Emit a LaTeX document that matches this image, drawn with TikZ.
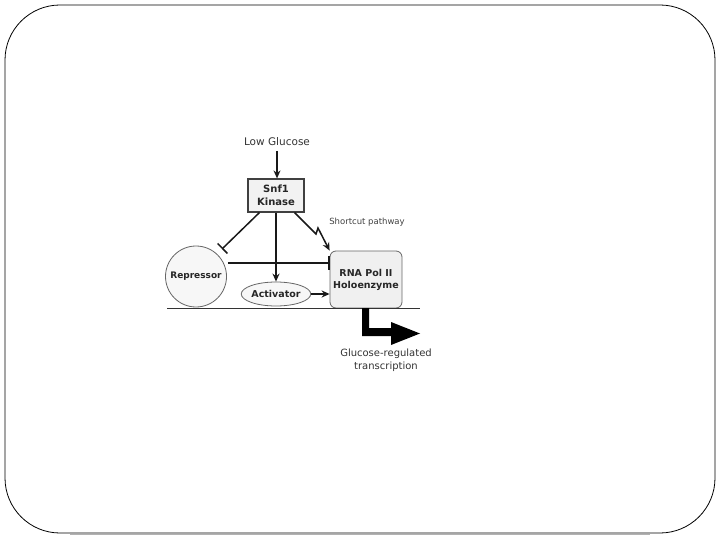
\documentclass[tikz,border=0pt]{standalone}
\usepackage{fontspec}
\setmainfont{DejaVu Sans}
\usetikzlibrary{arrows.meta,shapes.geometric}
\begin{document}
\begin{tikzpicture}[x=1pt,y=-1pt,
  lbl/.style={font=\fontsize{10.5}{12}\selectfont, text=black!80, inner sep=0pt, align=center},
  boldlbl/.style={font=\fontsize{9.5}{12}\selectfont\bfseries, text=black!85, align=center, inner sep=0pt},
  conn/.style={line width=1.5pt, black!90},
  arr/.style={conn, -{Stealth[length=8pt,width=7pt]}},
  inh/.style={conn, -{Bar[width=14pt]}}
]
\useasboundingbox (0,0) rectangle (720,540);
% frame
\draw[line width=0.8pt, rounded corners=55pt] (5,5) rectangle (715,533);
\draw[gray!60, line width=1pt] (70,534.5) -- (650,534.5);

% nodes
\node[lbl] (low) at (277,142) {Low Glucose};
\node[draw=black!75, line width=1.2pt, fill=gray!10, minimum width=56pt, minimum height=33pt, inner sep=0pt, boldlbl, font=\fontsize{10}{12.5}\selectfont\bfseries] (snf) at (276,195.5) {Snf1\\Kinase};
\node[draw=black!60, line width=0.8pt, fill=gray!6, circle, minimum size=61pt, inner sep=0pt, font=\fontsize{9}{10}\selectfont\bfseries, text=black!85] (rep) at (196,276.5) {Repressor};
\node[draw=black!60, line width=0.8pt, fill=gray!6, ellipse, minimum width=63pt, minimum height=24pt, inner sep=0pt, font=\fontsize{9.5}{10}\selectfont\bfseries, text=black!85] (act) at (276,294) {Activator};
\node[draw=black!60, line width=0.8pt, fill=gray!12, rounded corners=6pt, minimum width=72pt, minimum height=57pt, inner sep=0pt, boldlbl] (rna) at (366,279.5) {RNA Pol II\\Holoenzyme};
\node[font=\fontsize{8.5}{10}\selectfont, text=black!75, inner sep=0pt] (sc) at (367,222) {Shortcut pathway};
\node[lbl, font=\fontsize{10}{13}\selectfont] (out) at (386,360) {Glucose-regulated\\transcription};

% coordinates
\coordinate (lowb) at (277,151);
\coordinate (z1) at (316,234);
\coordinate (z2) at (318,228);
\coordinate (repend) at (222,249);
\coordinate (b0) at (167,308);
\coordinate (b1) at (420,308);

% connectors
\draw[arr] (lowb) -- (snf.north -| lowb);
\draw[inh] (snf.south west) ++(12,0) coordinate (s1) -- (repend);
\draw[arr] (snf.south) -- (act.north);
\draw[arr] (snf.south east) ++(-10,0) coordinate (s2) -- (z1) -- (z2) -- (rna.north west);
\draw[inh] (rep.east |- 0,263) ++(1,0) -- (rna.west |- 0,263);
\draw[arr] (act.east) -- (rna.west |- act.east);

% baseline
\draw[line width=0.9pt, black!80] (b0) -- (b1);

% big bent arrow
\fill[black] (362,308) -- (369,308) -- (369,328) -- (391,328) -- (391,322) -- (420,333.5) -- (391,345) -- (391,336) -- (362,336) -- cycle;
\end{tikzpicture}
\end{document}
